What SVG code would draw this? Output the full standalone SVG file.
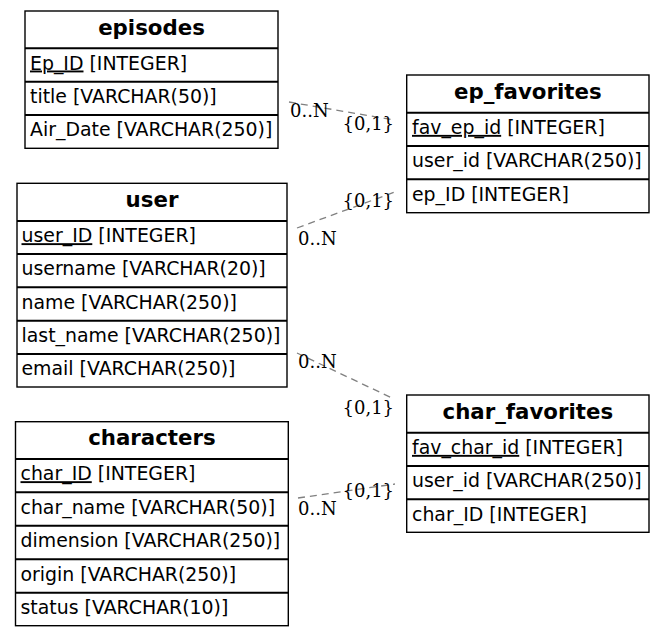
<svg xmlns="http://www.w3.org/2000/svg" width="665" height="636" viewBox="0 0 665 636">
<style>
.box{fill:#fff;stroke:#000;stroke-width:1.4}
.sep{stroke:#000;stroke-width:2}
.hd{font-family:"DejaVu Sans",sans-serif;font-weight:bold;font-size:21.3px;text-anchor:middle;fill:#000}
.fd{font-family:"DejaVu Sans",sans-serif;font-size:18.9px;fill:#000}
.pk{text-decoration:underline}
.edge{fill:none;stroke:#808080;stroke-width:1.3;stroke-dasharray:7,5}
.lb{font-family:"DejaVu Serif",serif;font-size:18px;fill:#000}
</style>
<rect width="665" height="636" fill="#fff"/>
<g id="connectors">
<path class="edge" d="M289,102 L394,120"/>
<path class="edge" d="M297,228 L395,192"/>
<path class="edge" d="M297,353 L392,398"/>
<path class="edge" d="M298,498 L395,484"/>
<text class="lb" x="290" y="117">0..N</text>
<text class="lb" x="342.5" y="130">{0,1}</text>
<text class="lb" x="342.5" y="207">{0,1}</text>
<text class="lb" x="298" y="245">0..N</text>
<text class="lb" x="298" y="368">0..N</text>
<text class="lb" x="342.5" y="414">{0,1}</text>
<text class="lb" x="342.5" y="497">{0,1}</text>
<text class="lb" x="298" y="515">0..N</text>
</g>
<g id="episodes">
<rect class="box" x="25" y="11" width="253" height="137.3"/>
<line class="sep" x1="25" y1="48.3" x2="278" y2="48.3"/>
<line class="sep" x1="25" y1="81.7" x2="278" y2="81.7"/>
<line class="sep" x1="25" y1="115" x2="278" y2="115"/>
<text class="hd" x="151.5" y="34.5">episodes</text>
<text class="fd" x="30" y="69.5"><tspan class="pk">Ep_ID</tspan> [INTEGER]</text>
<text class="fd" x="30" y="102.9">title [VARCHAR(50)]</text>
<text class="fd" x="30" y="136.2">Air_Date [VARCHAR(250)]</text>
</g>
<g id="ep_favorites">
<rect class="box" x="406.7" y="75" width="242.3" height="137.7"/>
<line class="sep" x1="406.7" y1="112.7" x2="649" y2="112.7"/>
<line class="sep" x1="406.7" y1="146" x2="649" y2="146"/>
<line class="sep" x1="406.7" y1="179.3" x2="649" y2="179.3"/>
<text class="hd" x="527.8" y="98.5">ep_favorites</text>
<text class="fd" x="412" y="133.9"><tspan class="pk">fav_ep_id</tspan> [INTEGER]</text>
<text class="fd" x="412" y="167.2">user_id [VARCHAR(250)]</text>
<text class="fd" x="412" y="200.5">ep_ID [INTEGER]</text>
</g>
<g id="user">
<rect class="box" x="17" y="183.3" width="270" height="203.7"/>
<line class="sep" x1="17" y1="221" x2="287" y2="221"/>
<line class="sep" x1="17" y1="254" x2="287" y2="254"/>
<line class="sep" x1="17" y1="287.3" x2="287" y2="287.3"/>
<line class="sep" x1="17" y1="320.7" x2="287" y2="320.7"/>
<line class="sep" x1="17" y1="354" x2="287" y2="354"/>
<text class="hd" x="152" y="206.5">user</text>
<text class="fd" x="21.5" y="242.2"><tspan class="pk">user_ID</tspan> [INTEGER]</text>
<text class="fd" x="21.5" y="275.2">username [VARCHAR(20)]</text>
<text class="fd" x="21.5" y="308.5">name [VARCHAR(250)]</text>
<text class="fd" x="21.5" y="341.9">last_name [VARCHAR(250)]</text>
<text class="fd" x="21.5" y="375.2">email [VARCHAR(250)]</text>
</g>
<g id="characters">
<rect class="box" x="15.5" y="421.7" width="272.8" height="204"/>
<line class="sep" x1="15.5" y1="459" x2="288.3" y2="459"/>
<line class="sep" x1="15.5" y1="492.3" x2="288.3" y2="492.3"/>
<line class="sep" x1="15.5" y1="525.7" x2="288.3" y2="525.7"/>
<line class="sep" x1="15.5" y1="559.3" x2="288.3" y2="559.3"/>
<line class="sep" x1="15.5" y1="592.7" x2="288.3" y2="592.7"/>
<text class="hd" x="151.9" y="444.5">characters</text>
<text class="fd" x="20.5" y="480.2"><tspan class="pk">char_ID</tspan> [INTEGER]</text>
<text class="fd" x="20.5" y="513.5">char_name [VARCHAR(50)]</text>
<text class="fd" x="20.5" y="546.9">dimension [VARCHAR(250)]</text>
<text class="fd" x="20.5" y="580.5">origin [VARCHAR(250)]</text>
<text class="fd" x="20.5" y="613.9">status [VARCHAR(10)]</text>
</g>
<g id="char_favorites">
<rect class="box" x="406.7" y="395" width="242.3" height="137.3"/>
<line class="sep" x1="406.7" y1="432.7" x2="649" y2="432.7"/>
<line class="sep" x1="406.7" y1="466" x2="649" y2="466"/>
<line class="sep" x1="406.7" y1="499.3" x2="649" y2="499.3"/>
<text class="hd" x="527.8" y="418.5">char_favorites</text>
<text class="fd" x="412" y="453.9"><tspan class="pk">fav_char_id</tspan> [INTEGER]</text>
<text class="fd" x="412" y="487.2">user_id [VARCHAR(250)]</text>
<text class="fd" x="412" y="520.5">char_ID [INTEGER]</text>
</g>
</svg>
